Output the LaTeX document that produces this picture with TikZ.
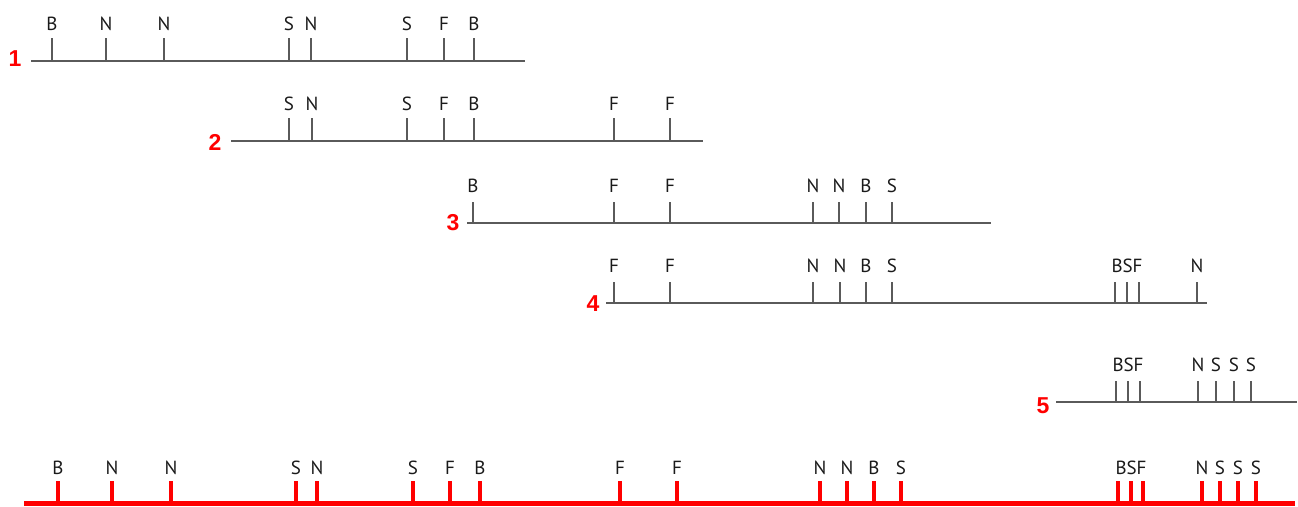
\documentclass[tikz,border=0pt]{standalone}
\usepackage{fontspec}
\setmainfont{PT Sans}
\newfontfamily\numfont{Liberation Sans}
\definecolor{linegray}{HTML}{5A5A5A}
\definecolor{txtgray}{HTML}{1A1A1A}
\definecolor{mred}{HTML}{FF0000}
\newcommand\trow[6]{%
  \draw[axis] (#3,#2) -- (#4,#2);
  \foreach \x/\t [count=\i] in {#6} {%
    \draw[tk] (\x,#2) -- (\x,{#2-#5});
    \node[lbl] (#1-\i) at (\x,{#2-31}) {\t};
  }%
}
\begin{document}
\begin{tikzpicture}[x=1pt,y=-1pt,
  axis/.style={draw=linegray,line width=1.8pt},
  tk/.style={draw=linegray,line width=1.6pt},
  lbl/.style={font=\fontsize{19}{19}\selectfont,text=txtgray,inner sep=0pt,anchor=base},
  num/.style={font=\numfont\bfseries\fontsize{23}{23}\selectfont,text=mred,inner sep=0pt},
  raxis/.style={draw=mred,line width=5pt},
  rtk/.style={draw=mred,line width=4pt}]
\useasboundingbox (0,0) rectangle (1298,506);

\trow{r1}{61}{31}{525}{23}{52/B,106/N,164/N,289/S,311/N,407/S,444/F,474/B}
\trow{r2}{141}{231}{703}{23}{289/S,312/N,407/S,444/F,474/B,614/F,670/F}
\trow{r3}{223}{467}{991}{21}{473/B,614/F,670/F,813/N,839/N,866/B,892/S}
\trow{r4}{303}{606}{1207}{21}{614/F,670/F,813/N,840/N,866/B,892/S,1115/{},1127/BSF,1139/{},1197/N}
\trow{r5}{402}{1056}{1297}{21}{1116/{},1128/BSF,1140/{},1198/N,1216/S,1234/S,1251/S}

\node[num] (n1) at (15,59) {1};
\node[num] (n2) at (215,142) {2};
\node[num] (n3) at (453,223) {3};
\node[num] (n4) at (593,304) {4};
\node[num] (n5) at (1043,406) {5};

\draw[raxis] (24,503.5) -- (1295,503.5);
\foreach \x/\t [count=\i] in {58/B,112/N,171/N,296/S,317/N,413/S,450/F,480/B,620/F,677/F,820/N,847/N,874/B,901/S,1118/{},1131/BSF,1143/{},1202/N,1220/S,1238/S,1256/S} {%
  \draw[rtk] (\x,503.5) -- (\x,481);
  \node[lbl] (b-\i) at (\x,474.5) {\t};
}
\end{tikzpicture}
\end{document}
